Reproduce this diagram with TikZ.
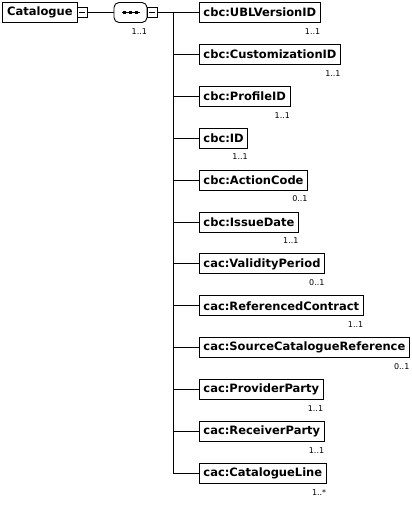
\documentclass[tikz,border=0pt]{standalone}
\usepackage{fontspec}
\setmainfont{DejaVu Sans}
\usetikzlibrary{positioning}

\begin{document}
\begin{tikzpicture}[x=1pt, y=-1pt, line width=0.9pt,
    elem/.style={rectangle, draw, fill=white, anchor=west, minimum height=20pt, inner xsep=4pt, font=\fontsize{11.5}{13}\selectfont\bfseries},
    card/.style={anchor=north east, inner sep=0pt, yshift=-5pt, font=\fontsize{8}{9}\selectfont},
    minus/.style={rectangle, draw, fill=white, minimum size=10pt, inner sep=0pt,
        path picture={\draw ([xshift=2pt]path picture bounding box.west) -- ([xshift=-2pt]path picture bounding box.east);}},
    seq/.style={rectangle, rounded corners=5pt, draw, fill=white, minimum width=33pt, minimum height=20pt, inner sep=0pt},
]
    \useasboundingbox (0,0) rectangle (412,507);

    % root element and its sequence
    \node[elem, minimum width=75pt] (cat) at (2,12.5) {Catalogue};
    \node[minus] (catm) at (82,12.5) {};
    \node[seq] (seq) at (130.5,12.5) {};
    \node[minus] (seqm) at (152,12.5) {};
    \node[card] (seq-c) at (seq.south east) {1..1};
    \coordinate (trunk) at (173,12.5);

    % the three dots of the sequence
    \draw ([xshift=-9pt]seq.center) -- ([xshift=9pt]seq.center);
    \foreach \d in {-6,0,6}
        \fill ([xshift=\d pt]seq.center) ++(-1.6pt,-1.6pt) rectangle ++(3.2pt,3.2pt);

    \draw (catm) -- (seq);
    \draw (seqm) -- (trunk);

    % children
    \node[elem] (uvid) at (199,12.5) {cbc:UBLVersionID};
    \node[elem] (cust) at (199,54.4) {cbc:CustomizationID};
    \node[elem] (prof) at (199,96.3) {cbc:ProfileID};
    \node[elem] (id) at (199,138.2) {cbc:ID};
    \node[elem] (act) at (199,180.1) {cbc:ActionCode};
    \node[elem] (issue) at (199,222) {cbc:IssueDate};
    \node[elem] (valid) at (199,263.9) {cac:ValidityPeriod};
    \node[elem] (refc) at (199,305.8) {cac:ReferencedContract};
    \node[elem] (src) at (199,347.7) {cac:SourceCatalogueReference};
    \node[elem] (prov) at (199,389.6) {cac:ProviderParty};
    \node[elem] (recv) at (199,431.5) {cac:ReceiverParty};
    \node[elem] (line) at (199,473.4) {cac:CatalogueLine};

    % cardinalities
    \node[card] (uvid-c) at (uvid.south east) {1..1};
    \node[card] (cust-c) at (cust.south east) {1..1};
    \node[card] (prof-c) at (prof.south east) {1..1};
    \node[card] (id-c) at (id.south east) {1..1};
    \node[card] (act-c) at (act.south east) {0..1};
    \node[card] (issue-c) at (issue.south east) {1..1};
    \node[card] (valid-c) at (valid.south east) {0..1};
    \node[card] (refc-c) at (refc.south east) {1..1};
    \node[card] (src-c) at (src.south east) {0..1};
    \node[card] (prov-c) at (prov.south east) {1..1};
    \node[card] (recv-c) at (recv.south east) {1..1};
    \node[card] (line-c) at (line.south east) {1..*};

    \foreach \n in {uvid,cust,prof,id,act,issue,valid,refc,src,prov,recv,line}
        \draw (trunk) |- (\n);
\end{tikzpicture}
\end{document}
